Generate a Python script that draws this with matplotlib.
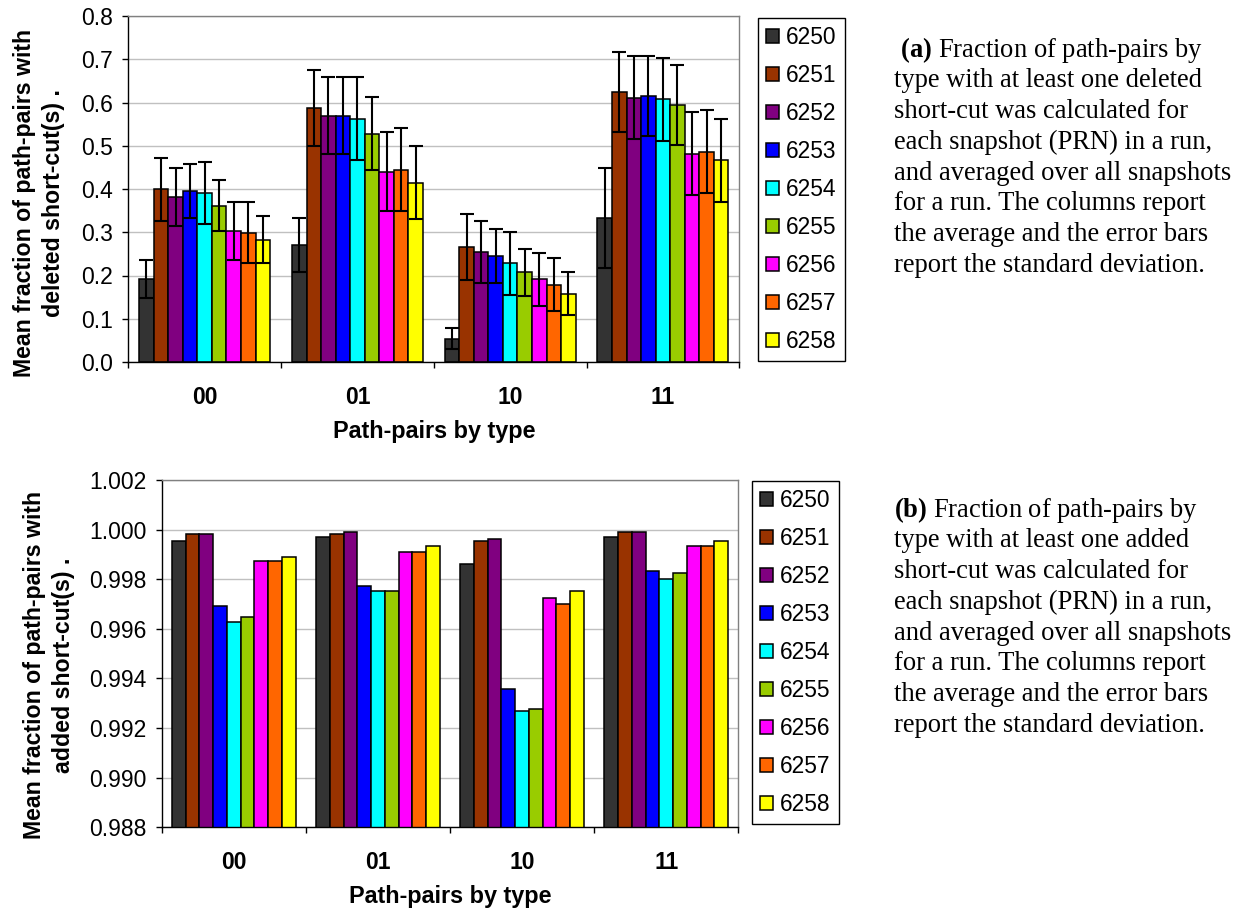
import numpy as np
import matplotlib
matplotlib.use("Agg")
import matplotlib.pyplot as plt
from matplotlib.ticker import FormatStrFormatter

plt.rcParams['font.family'] = ['Liberation Sans', 'DejaVu Sans']
plt.rcParams['mathtext.fontset'] = 'custom'
plt.rcParams['mathtext.rm'] = 'Liberation Serif'
plt.rcParams['mathtext.bf'] = 'Liberation Serif:bold'

# ---- data -------------------------------------------------------------
categories = ['00', '01', '10', '11']
runs = ['6250', '6251', '6252', '6253', '6254', '6255', '6256', '6257', '6258']
run_colors = ['#333333', '#993300', '#800080', '#0000FF', '#00FFFF',
              '#99CC00', '#FF00FF', '#FF6600', '#FFFF00']

# mean fraction with at least one deleted short-cut (rows = runs, cols = categories)
deleted_mean = [
    [0.191, 0.270, 0.054, 0.333],
    [0.399, 0.587, 0.266, 0.624],
    [0.382, 0.569, 0.254, 0.611],
    [0.395, 0.569, 0.245, 0.615],
    [0.391, 0.562, 0.228, 0.607],
    [0.361, 0.528, 0.207, 0.594],
    [0.303, 0.440, 0.191, 0.482],
    [0.299, 0.445, 0.179, 0.486],
    [0.283, 0.415, 0.158, 0.466],
]
deleted_sd = [
    [0.044, 0.063, 0.025, 0.116],
    [0.072, 0.088, 0.076, 0.092],
    [0.067, 0.089, 0.072, 0.096],
    [0.063, 0.089, 0.062, 0.092],
    [0.071, 0.096, 0.072, 0.096],
    [0.059, 0.084, 0.055, 0.093],
    [0.067, 0.092, 0.062, 0.096],
    [0.071, 0.096, 0.062, 0.096],
    [0.054, 0.084, 0.049, 0.096],
]
# mean fraction with at least one added short-cut
added_mean = [
    [0.99955, 0.99970, 0.99860, 0.99970],
    [0.99983, 0.99983, 0.99955, 0.99991],
    [0.99983, 0.99991, 0.99962, 0.99991],
    [0.99693, 0.99772, 0.99357, 0.99832],
    [0.99626, 0.99751, 0.99270, 0.99802],
    [0.99649, 0.99751, 0.99278, 0.99824],
    [0.99875, 0.99911, 0.99723, 0.99932],
    [0.99875, 0.99911, 0.99701, 0.99932],
    [0.99888, 0.99932, 0.99751, 0.99955],
]

deleted_ticks = [0.0, 0.1, 0.2, 0.3, 0.4, 0.5, 0.6, 0.7, 0.8]
added_ticks = [0.988, 0.990, 0.992, 0.994, 0.996, 0.998, 1.000, 1.002]

caption_a = [
    " $\\mathbf{(a)}$ Fraction of path-pairs by",
    "type with at least one deleted",
    "short-cut was calculated for",
    "each snapshot (PRN) in a run,",
    "and averaged over all snapshots",
    "for a run. The columns report",
    "the average and the error bars",
    "report the standard deviation.",
]
caption_b = [
    "$\\mathbf{(b)}$ Fraction of path-pairs by",
    "type with at least one added",
    "short-cut was calculated for",
    "each snapshot (PRN) in a run,",
    "and averaged over all snapshots",
    "for a run. The columns report",
    "the average and the error bars",
    "report the standard deviation.",
]

# ---- figure -----------------------------------------------------------
W, H = 1242, 911
fig = plt.figure(figsize=(W / 100, H / 100), dpi=100)


def px_axes(left, top, right, bottom):
    return fig.add_axes([left / W, 1 - bottom / H, (right - left) / W, (bottom - top) / H])


def draw_panel(ax, means, sds, yticks, fmt):
    n = len(runs)
    width = 1.0 / (n + 1.5)
    x = np.arange(len(categories))
    handles = []
    for i, (run, color) in enumerate(zip(runs, run_colors)):
        pos = x + (i - (n - 1) / 2) * width
        b = ax.bar(pos, means[i], width, color=color, edgecolor='black',
                   linewidth=1.1, label=run, zorder=2)
        handles.append(b)
        if sds is not None:
            ax.errorbar(pos, means[i], yerr=sds[i], fmt='none', ecolor='black',
                        elinewidth=1.5, capsize=4.7, capthick=1.5, zorder=3)
    ax.set_xlim(-0.5, len(categories) - 0.5)
    ax.set_ylim(yticks[0], yticks[-1])
    ax.set_yticks(yticks)
    ax.yaxis.set_major_formatter(FormatStrFormatter(fmt))
    ax.grid(axis='y', color='#c0c0c0', linewidth=1.0)
    ax.set_axisbelow(True)
    ax.set_xticks(x)
    ax.set_xticklabels(categories, fontweight='bold')
    ax.set_xticks(np.arange(-0.5, len(categories), 1.0), minor=True)
    ax.tick_params(axis='x', which='major', length=0, pad=17, labelsize=16.5)
    ax.tick_params(axis='x', which='minor', length=4, direction='out', width=1)
    ax.tick_params(axis='y', length=4.6, direction='out', width=1, labelsize=16.5, pad=6.5)
    for side in ('left', 'bottom'):
        ax.spines[side].set_color('black')
        ax.spines[side].set_linewidth(1.0)
    for side in ('top', 'right'):
        ax.spines[side].set_color('#808080')
        ax.spines[side].set_linewidth(1.0)
    ax.set_xlabel('Path-pairs by type', fontweight='bold', fontsize=16.8, labelpad=8)
    return handles


def draw_legend(ax, handles, left, top):
    leg = ax.legend(handles=handles, loc='upper left',
                    bbox_to_anchor=(left / W, 1 - top / H),
                    bbox_transform=fig.transFigure, borderaxespad=0,
                    frameon=True, fancybox=False, edgecolor='black', framealpha=1,
                    fontsize=16.4, handlelength=0.58, handleheight=0.58,
                    handletextpad=0.3, labelspacing=0.66, borderpad=0.35)
    leg.get_frame().set_linewidth(1.0)


def draw_caption(lines, x, first_baseline, step=30.7):
    for k, line in enumerate(lines):
        fig.text(x / W, 1 - (first_baseline + k * step) / H, line,
                 family='Liberation Serif', fontsize=19.1, ha='left', va='baseline')


# upper panel: deleted short-cuts
ax_a = px_axes(128.3, 16.0, 739.3, 362.0)
h_a = draw_panel(ax_a, deleted_mean, deleted_sd, deleted_ticks, '%.1f')
draw_legend(ax_a, h_a, 758.3, 17.7)
fig.text(39 / W, 1 - 203 / H, "Mean fraction of path-pairs with\ndeleted short-cut(s) .",
         rotation=90, ha='center', va='center', multialignment='center',
         fontsize=16.7, fontweight='bold', linespacing=1.37)
draw_caption(caption_a, 894.3, 56.7)

# lower panel: added short-cuts
ax_b = px_axes(161.7, 480.0, 738.3, 827.3)
h_b = draw_panel(ax_b, added_mean, None, added_ticks, '%.3f')
draw_legend(ax_b, h_b, 752.3, 481.0)
fig.text(49 / W, 1 - 665 / H, "Mean fraction of path-pairs with\nadded short-cut(s) .",
         rotation=90, ha='center', va='center', multialignment='center',
         fontsize=16.7, fontweight='bold', linespacing=1.37)
draw_caption(caption_b, 894.3, 516.7)

fig.savefig('out.png', dpi=100, facecolor='white')
